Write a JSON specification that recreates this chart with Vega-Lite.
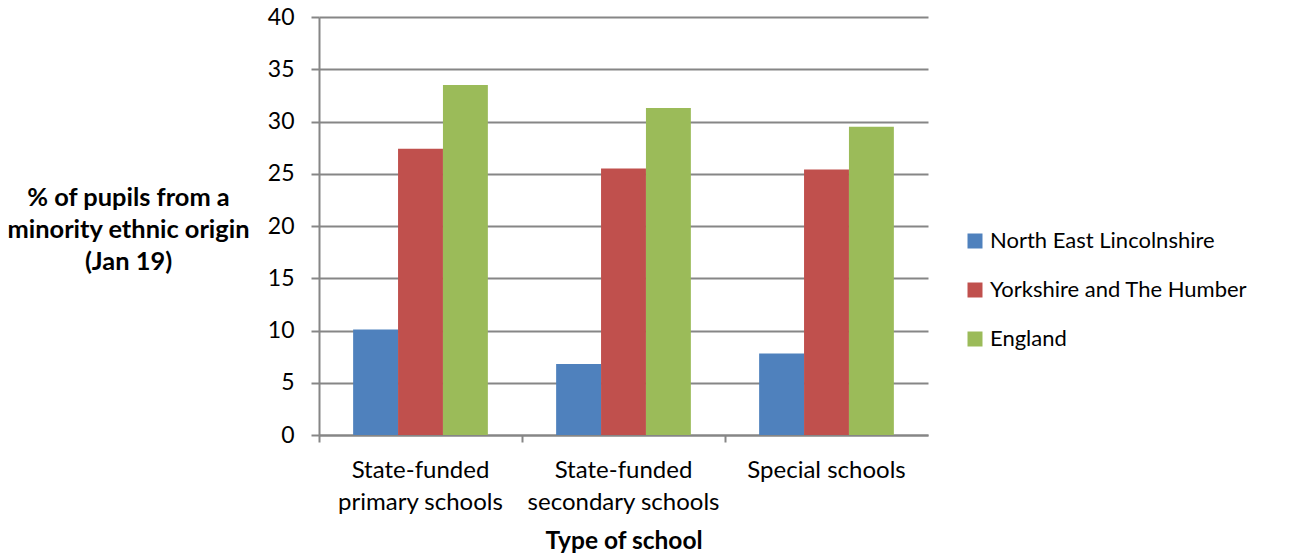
{
  "$schema": "https://vega.github.io/schema/vega-lite/v6.json",
  "autosize": "none",
  "width": 609,
  "height": 418,
  "padding": {"left": 319, "top": 17, "right": 376, "bottom": 120},
  "background": "white",
  "config": {
    "font": "Lato",
    "view": {"stroke": null}
  },
  "data": {
    "values": [
      {"school": "State-funded primary schools", "area": "North East Lincolnshire", "pct": 10.1},
      {"school": "State-funded primary schools", "area": "Yorkshire and The Humber", "pct": 27.4},
      {"school": "State-funded primary schools", "area": "England", "pct": 33.5},
      {"school": "State-funded secondary schools", "area": "North East Lincolnshire", "pct": 6.8},
      {"school": "State-funded secondary schools", "area": "Yorkshire and The Humber", "pct": 25.5},
      {"school": "State-funded secondary schools", "area": "England", "pct": 31.3},
      {"school": "Special schools", "area": "North East Lincolnshire", "pct": 7.8},
      {"school": "Special schools", "area": "Yorkshire and The Humber", "pct": 25.4},
      {"school": "Special schools", "area": "England", "pct": 29.5}
    ]
  },
  "mark": {"type": "bar"},
  "encoding": {
    "x": {
      "field": "school",
      "type": "nominal",
      "sort": null,
      "scale": {"paddingInner": 0, "paddingOuter": 0},
      "axis": {
        "title": "Type of school",
        "titleFont": "Lato",
        "titleFontSize": 24.5,
        "titleFontWeight": "bold",
        "titleColor": "black",
        "titlePadding": 15,
        "labelAngle": 0,
        "labelFont": "Lato",
        "labelFontSize": 24,
        "labelColor": "black",
        "labelLineHeight": 32,
        "labelPadding": 16,
        "labelLimit": 400,
        "labelExpr": "datum.value == 'Special schools' ? datum.value : [slice(datum.value, 0, 12), slice(datum.value, 13)]",
        "bandPosition": 0,
        "tickColor": "#868686",
        "tickWidth": 2,
        "tickSize": 7,
        "domainColor": "#868686",
        "domainWidth": 2,
        "grid": false
      }
    },
    "xOffset": {
      "field": "area",
      "type": "nominal",
      "sort": ["North East Lincolnshire", "Yorkshire and The Humber", "England"],
      "scale": {"paddingInner": 0, "paddingOuter": 0.76}
    },
    "y": {
      "field": "pct",
      "type": "quantitative",
      "scale": {"domain": [0, 40], "nice": false},
      "axis": {
        "values": [0, 5, 10, 15, 20, 25, 30, 35, 40],
        "title": ["% of pupils from a", "minority ethnic origin", "(Jan 19)"],
        "titleAngle": 0,
        "titleAlign": "center",
        "titleBaseline": "middle",
        "titleX": -191,
        "titleY": 180,
        "titleLineHeight": 32,
        "titleFont": "Lato",
        "titleFontSize": 25.4,
        "titleFontWeight": "bold",
        "titleColor": "black",
        "labelFont": "Lato",
        "labelFontSize": 23,
        "labelColor": "black",
        "labelPadding": 17,
        "tickColor": "#868686",
        "tickWidth": 2,
        "tickSize": 8,
        "domainColor": "#868686",
        "domainWidth": 2,
        "grid": true,
        "gridColor": "#868686",
        "gridWidth": 2
      }
    },
    "color": {
      "field": "area",
      "type": "nominal",
      "sort": ["North East Lincolnshire", "Yorkshire and The Humber", "England"],
      "scale": {
        "domain": ["North East Lincolnshire", "Yorkshire and The Humber", "England"],
        "range": ["#4F81BD", "#C0504D", "#9BBB59"]
      },
      "legend": {
        "title": null,
        "orient": "none",
        "legendX": 645,
        "legendY": 213,
        "symbolType": "square",
        "symbolSize": 225,
        "symbolStrokeWidth": 0,
        "labelFont": "Lato",
        "labelFontSize": 22,
        "labelColor": "black",
        "labelOffset": 4,
        "rowPadding": 27,
        "labelLimit": 400
      }
    }
  }
}
